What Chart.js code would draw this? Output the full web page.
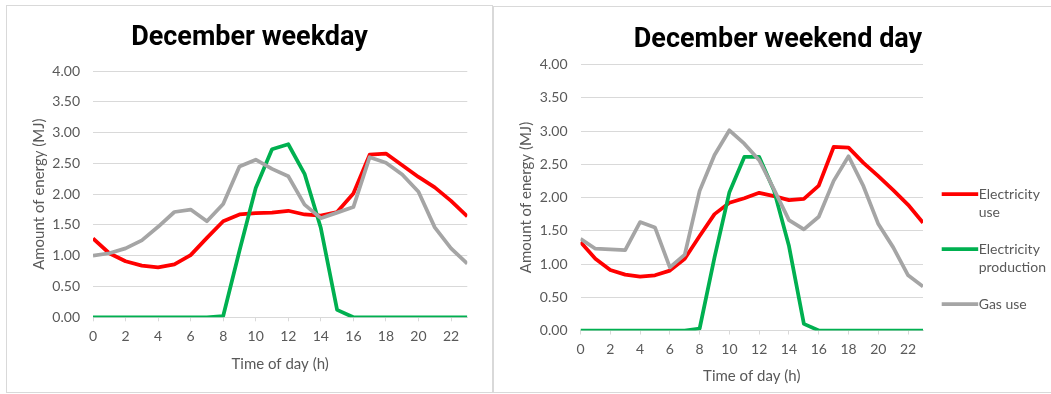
<!DOCTYPE html>
<html>
<head>
<meta charset="utf-8">
<script src="https://cdn.jsdelivr.net/npm/chart.js@4.4.1/dist/chart.umd.min.js"></script>
<style>
  html, body { margin: 0; padding: 0; background: #ffffff; }
  body { position: relative; width: 1051px; height: 394px; overflow: hidden; }
  .box { position: absolute; border: 1px solid #d9d9d9; background: #ffffff; }
  #boxL { left: 6px; top: 5px; width: 485px; height: 386px; }
  #boxR { left: 493px; top: 6px; width: 568px; height: 385px; }
  canvas { display: block; }
</style>
</head>
<body>
<div class="box" id="boxL"><canvas id="weekday" width="485" height="386"></canvas></div>
<div class="box" id="boxR"><canvas id="weekend" width="568" height="385"></canvas></div>
<script>
// Hour of day (h)
const hours = [0, 1, 2, 3, 4, 5, 6, 7, 8, 9, 10, 11, 12, 13, 14, 15, 16, 17, 18, 19, 20, 21, 22, 23];

// December weekday, amount of energy (MJ) per hour
const weekdayElectricityUse = [1.28, 1.04, 0.91, 0.84, 0.81, 0.86, 1.01, 1.29, 1.56, 1.67, 1.69, 1.70,
                               1.73, 1.67, 1.65, 1.71, 2.01, 2.64, 2.66, 2.47, 2.28, 2.11, 1.89, 1.64];
const weekdayElectricityProduction = [0, 0, 0, 0, 0, 0, 0, 0, 0.02, 1.08, 2.10, 2.73,
                                      2.81, 2.33, 1.45, 0.12, 0, 0, 0, 0, 0, 0, 0, 0];
const weekdayGasUse = [1.00, 1.04, 1.12, 1.25, 1.47, 1.71, 1.75, 1.56, 1.84, 2.45, 2.56, 2.41,
                       2.29, 1.83, 1.61, 1.70, 1.79, 2.60, 2.51, 2.32, 2.04, 1.46, 1.12, 0.87];

// December weekend day, amount of energy (MJ) per hour
const weekendElectricityUse = [1.33, 1.08, 0.91, 0.84, 0.81, 0.83, 0.90, 1.08, 1.42, 1.75, 1.92, 1.99,
                               2.07, 2.02, 1.96, 1.98, 2.18, 2.76, 2.75, 2.52, 2.32, 2.11, 1.89, 1.62];
const weekendElectricityProduction = [0, 0, 0, 0, 0, 0, 0, 0, 0.03, 1.10, 2.08, 2.61,
                                      2.61, 2.10, 1.27, 0.10, 0, 0, 0, 0, 0, 0, 0, 0];
const weekendGasUse = [1.38, 1.23, 1.22, 1.21, 1.63, 1.55, 0.95, 1.14, 2.10, 2.64, 3.01, 2.81,
                       2.56, 2.12, 1.66, 1.52, 1.71, 2.25, 2.62, 2.17, 1.60, 1.25, 0.83, 0.66];

// Axis ticks and texts
const yTicks = [0, 0.5, 1, 1.5, 2, 2.5, 3, 3.5, 4];
const xTickStep = 2;
const seriesNames = ['Electricity use', 'Electricity production', 'Gas use'];
const seriesColors = ['#FF0000', '#00B050', '#A5A5A5'];
const yAxisTitle = 'Amount of energy (MJ)';
const xAxisTitle = 'Time of day (h)';

const TEXT_GREY = '#595959';
const GRID_GREY = '#d9d9d9';

// Chart title centred on the whole chart box (not just the area left of the legend)
const boxTitle = {
  id: 'boxTitle',
  afterDraw(chart, args, opts) {
    const ctx = chart.ctx;
    ctx.save();
    ctx.font = 'bold 27px Roboto';
    ctx.fillStyle = '#000000';
    ctx.textAlign = 'center';
    ctx.textBaseline = 'middle';
    ctx.fillText(opts.text, chart.width / 2, opts.y);
    ctx.restore();
  }
};

// Legend to the right of the plot, with long names wrapped onto two lines
const sideLegend = {
  id: 'sideLegend',
  afterDraw(chart, args, opts) {
    if (!opts.display) return;
    const ctx = chart.ctx;
    ctx.save();
    ctx.font = '14px Lato';
    ctx.textBaseline = 'middle';
    ctx.textAlign = 'left';
    let y = opts.y;
    chart.data.datasets.forEach(ds => {
      // word wrap
      const words = ds.label.split(' ');
      const lines = [];
      let cur = '';
      words.forEach(w => {
        const test = cur ? cur + ' ' + w : w;
        if (cur && ctx.measureText(test).width > opts.wrap) { lines.push(cur); cur = w; }
        else cur = test;
      });
      lines.push(cur);
      ctx.strokeStyle = ds.borderColor;
      ctx.lineWidth = ds.borderWidth;
      ctx.lineCap = 'butt';
      ctx.beginPath();
      ctx.moveTo(opts.x, y);
      ctx.lineTo(opts.x + opts.sample, y);
      ctx.stroke();
      ctx.fillStyle = TEXT_GREY;
      lines.forEach((t, i) => ctx.fillText(t, opts.x + opts.sample + 0.5, y + i * opts.lineGap));
      y += lines.length * opts.lineGap + opts.entryGap;
    });
    ctx.restore();
  }
};

function makeChart(id, titleText, series, geo) {
  // 'order': later series are drawn on top of earlier ones
  const datasets = series.map((vals, i) => ({
    label: seriesNames[i],
    data: hours.map((h, k) => ({ x: h, y: vals[k] })),
    borderColor: seriesColors[i],
    backgroundColor: seriesColors[i],
    borderWidth: 3.75,
    pointRadius: 0,
    tension: 0,
    fill: false,
    borderJoinStyle: 'round',
    order: series.length - i
  }));
  return new Chart(document.getElementById(id), {
    type: 'line',
    data: { datasets },
    plugins: [boxTitle, sideLegend],
    options: {
      responsive: false,
      animation: false,
      events: [],
      layout: { padding: { left: 0, top: geo.top, right: geo.right, bottom: 0 } },
      plugins: {
        legend: { display: false },
        tooltip: { enabled: false },
        title: { display: false },
        boxTitle: { text: titleText, y: geo.titleY },
        sideLegend: geo.legend ? { display: true, x: geo.legend.x, y: geo.legend.y, sample: 36.5,
                                   wrap: 72, lineGap: 18.5, entryGap: 18 } : { display: false }
      },
      scales: {
        x: {
          type: 'linear',
          min: hours[0],
          max: hours[hours.length - 1],
          afterBuildTicks: s => {
            s.ticks = hours.filter(h => h % xTickStep === 0).map(h => ({ value: h }));
          },
          afterFit: s => { s.height = geo.xHeight; },
          grid: { drawOnChartArea: false, drawTicks: true, tickLength: 4, color: GRID_GREY, lineWidth: 1 },
          border: { display: true, color: GRID_GREY, width: 1 },
          ticks: {
            color: TEXT_GREY, font: { family: 'Lato', size: 14 }, padding: 7,
            maxRotation: 0, autoSkip: false,
            callback: v => String(v)
          },
          title: {
            display: true, text: xAxisTitle, color: TEXT_GREY,
            font: { family: 'Lato', size: 15, lineHeight: 1.2 },
            padding: { top: 0, bottom: geo.xTitleBottom }
          }
        },
        y: {
          min: yTicks[0],
          max: yTicks[yTicks.length - 1],
          afterBuildTicks: s => { s.ticks = yTicks.map(v => ({ value: v })); },
          afterFit: s => { s.width = geo.yWidth; },
          grid: { drawTicks: false, color: GRID_GREY, lineWidth: 1 },
          border: { display: false },
          ticks: {
            color: TEXT_GREY, font: { family: 'Lato', size: 14 }, padding: 13,
            callback: v => Number(v).toFixed(2)
          },
          title: {
            display: true, text: yAxisTitle, color: TEXT_GREY,
            font: { family: 'Lato', size: 15, lineHeight: 1.2 },
            padding: { top: 23.5, bottom: 0 }
          }
        }
      }
    }
  });
}

function build() {
  makeChart('weekday', 'December weekday',
    [weekdayElectricityUse, weekdayElectricityProduction, weekdayGasUse],
    { top: 65, right: 24.7, titleY: 32.2, xHeight: 74.7, yWidth: 86, xTitleBottom: 19 });
  makeChart('weekend', 'December weekend day',
    [weekendElectricityUse, weekendElectricityProduction, weekendGasUse],
    { top: 57.5, right: 139, titleY: 33.2, xHeight: 61.5, yWidth: 86.5, xTitleBottom: 7,
      legend: { x: 447.7, y: 187 } });
}

Promise.all([
  document.fonts.load('bold 27px Roboto'),
  document.fonts.load('14px Lato')
]).then(build, build);
</script>
</body>
</html>
